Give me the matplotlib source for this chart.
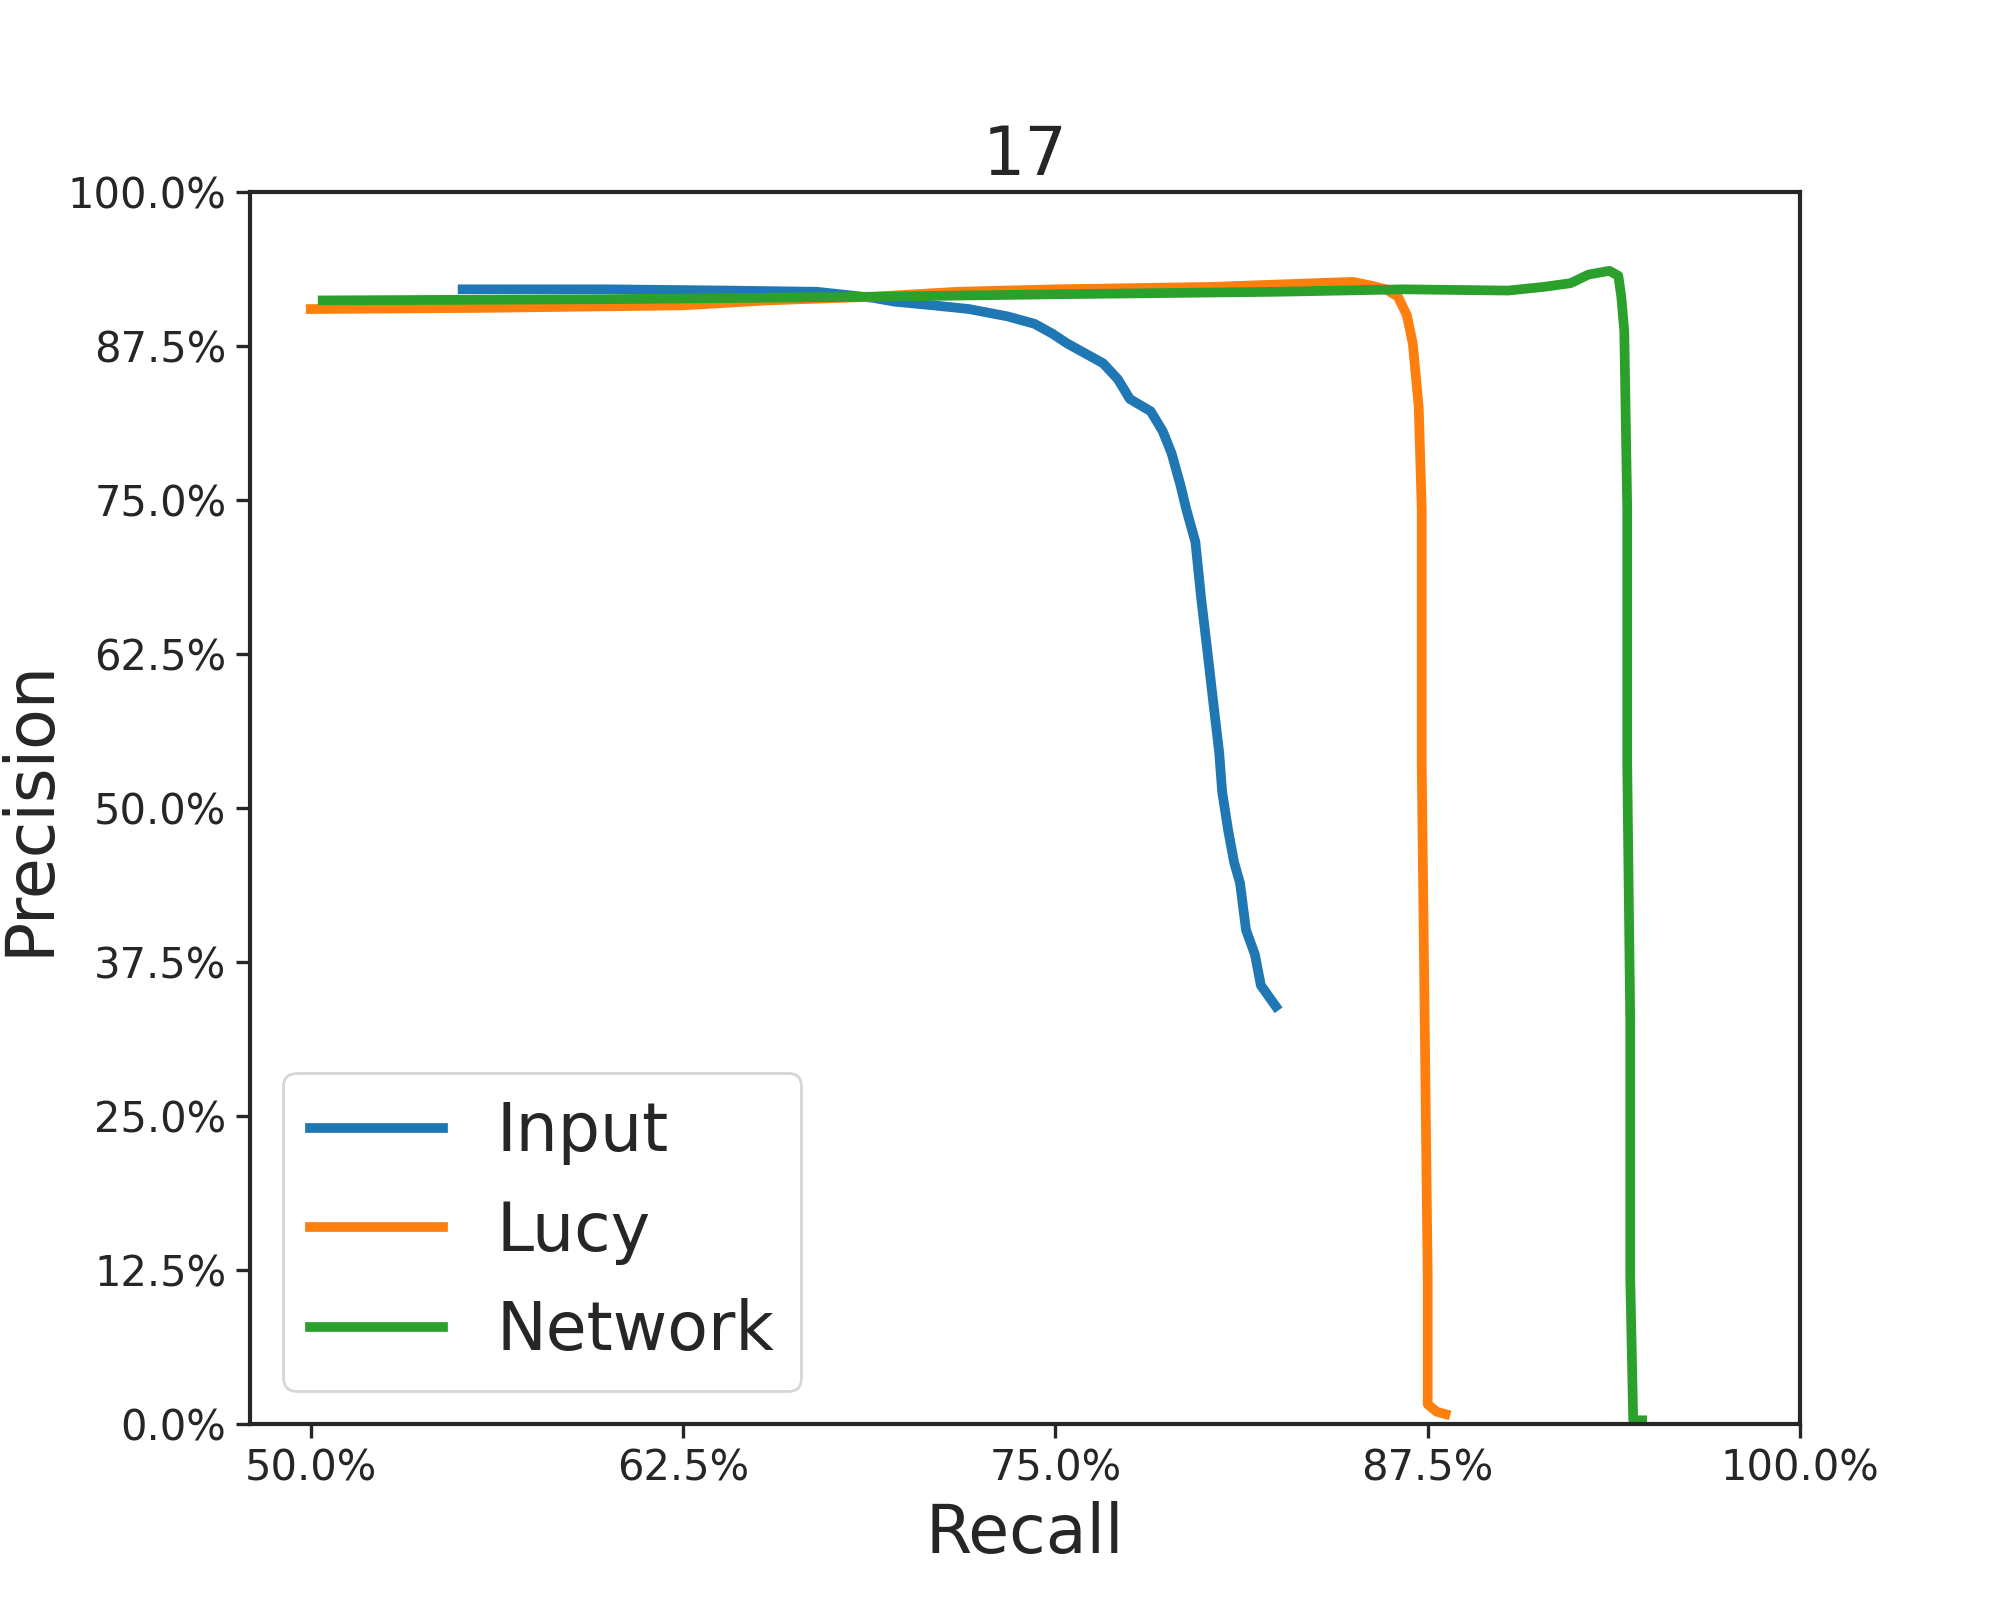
import matplotlib
matplotlib.use("Agg")
import matplotlib.pyplot as plt
from matplotlib.ticker import PercentFormatter

# precision / recall curves (fractions)
input_recall = [0.551, 0.600, 0.640, 0.670, 0.689, 0.696, 0.709, 0.721, 0.734, 0.743, 0.749,
                0.754, 0.760, 0.766, 0.771, 0.775, 0.782, 0.786, 0.789, 0.792, 0.794, 0.797,
                0.799, 0.801, 0.803, 0.805, 0.806, 0.808, 0.810, 0.812, 0.814, 0.817, 0.819, 0.824]
input_precision = [0.921, 0.921, 0.920, 0.919, 0.914, 0.911, 0.908, 0.905, 0.899, 0.893, 0.885,
                   0.877, 0.869, 0.861, 0.848, 0.832, 0.822, 0.806, 0.788, 0.762, 0.742, 0.716,
                   0.669, 0.628, 0.586, 0.545, 0.513, 0.482, 0.456, 0.439, 0.401, 0.381, 0.356, 0.339]

lucy_recall = [0.500, 0.560, 0.625, 0.653, 0.689, 0.717, 0.750, 0.803, 0.837, 0.850, 0.856,
               0.861, 0.865, 0.868, 0.870, 0.872, 0.873, 0.873, 0.874, 0.875, 0.875, 0.878, 0.881]
lucy_precision = [0.905, 0.906, 0.908, 0.912, 0.915, 0.919, 0.921, 0.923, 0.926, 0.927, 0.924,
                  0.921, 0.915, 0.900, 0.877, 0.825, 0.742, 0.534, 0.327, 0.119, 0.016, 0.010, 0.008]

network_recall = [0.504, 0.600, 0.689, 0.750, 0.824, 0.867, 0.902, 0.914, 0.923, 0.929, 0.936,
                  0.939, 0.940, 0.941, 0.942, 0.942, 0.943, 0.943, 0.944, 0.947]
network_precision = [0.912, 0.913, 0.915, 0.917, 0.919, 0.921, 0.920, 0.923, 0.926, 0.933, 0.936,
                     0.932, 0.915, 0.887, 0.742, 0.534, 0.327, 0.119, 0.003, 0.003]

series_names = ["Input", "Lucy", "Network"]
x_ticks = [0.5, 0.625, 0.75, 0.875, 1.0]
y_ticks = [0.0, 0.125, 0.25, 0.375, 0.5, 0.625, 0.75, 0.875, 1.0]

text_color = "#262626"
plt.rcParams["text.color"] = text_color
plt.rcParams["axes.labelcolor"] = text_color
plt.rcParams["xtick.color"] = text_color
plt.rcParams["ytick.color"] = text_color
plt.rcParams["axes.edgecolor"] = text_color

fig, ax = plt.subplots(figsize=(10, 8), dpi=200)

ax.plot(input_recall, input_precision, color="#1f77b4", lw=3.5, label=series_names[0])
ax.plot(lucy_recall, lucy_precision, color="#ff7f0e", lw=3.5, label=series_names[1])
ax.plot(network_recall, network_precision, color="#2ca02c", lw=3.5, label=series_names[2])

ax.set_xlim(0.4796, 1.0)
ax.set_ylim(0.0, 1.0)
ax.set_xticks(x_ticks)
ax.set_yticks(y_ticks)
ax.xaxis.set_major_formatter(PercentFormatter(1.0, decimals=1))
ax.yaxis.set_major_formatter(PercentFormatter(1.0, decimals=1))
ax.tick_params(labelsize=15, width=1.2, length=5)
for s in ax.spines.values():
    s.set_linewidth(1.5)

ax.set_xlabel("Recall", fontsize=24)
ax.set_ylabel("Precision", fontsize=24, labelpad=2)
ax.set_title("17", fontsize=24)
ax.legend(loc="lower left", fontsize=24)

fig.savefig("out.png")
